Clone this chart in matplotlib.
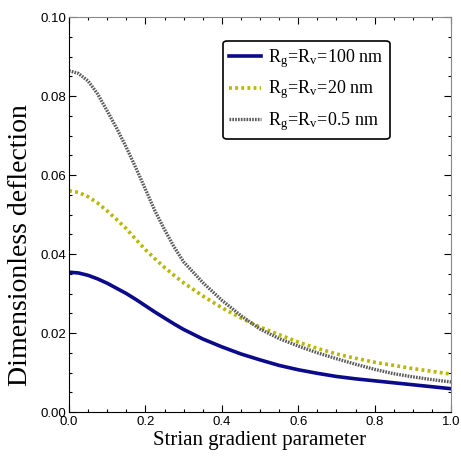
import matplotlib
matplotlib.use('Agg')
import matplotlib.pyplot as plt
from matplotlib.ticker import MultipleLocator, FormatStrFormatter

# values (finer steps where the curves bend most)
x = [0.000, 0.025, 0.050, 0.075, 0.100, 0.125, 0.150, 0.175, 0.200, 0.225, 0.250, 0.275, 0.300,
     0.35, 0.40, 0.45, 0.50, 0.55, 0.60, 0.65, 0.70, 0.75, 0.80, 0.85, 0.90, 0.95, 1.00]
w_100 = [0.0354, 0.0352, 0.0346, 0.0337, 0.0326, 0.0313, 0.0300, 0.0285, 0.0269, 0.0253, 0.0238, 0.0223, 0.0209,
         0.0185, 0.0165, 0.0147, 0.0132, 0.0118, 0.0107, 0.0098, 0.0090, 0.0084, 0.0079, 0.0074, 0.0069, 0.0064, 0.0059]
w_20 = [0.0560, 0.0556, 0.0545, 0.0529, 0.0509, 0.0487, 0.0464, 0.0437, 0.0411, 0.0388, 0.0366, 0.0346, 0.0327,
        0.0294, 0.0264, 0.0238, 0.0215, 0.0196, 0.0177, 0.0161, 0.0147, 0.0136, 0.0126, 0.0118, 0.0110, 0.0103, 0.0096]
w_05 = [0.0864, 0.0857, 0.0838, 0.0805, 0.0762, 0.0718, 0.0670, 0.0618, 0.0564, 0.0509, 0.0462, 0.0418, 0.0380,
        0.0328, 0.0283, 0.0244, 0.0210, 0.0186, 0.0167, 0.0150, 0.0135, 0.0121, 0.0108, 0.0097, 0.0089, 0.0082, 0.0076]
labels = [r'R$_\mathregular{g}$=R$_\mathregular{v}$=100 nm',
          r'R$_\mathregular{g}$=R$_\mathregular{v}$=20 nm',
          r'R$_\mathregular{g}$=R$_\mathregular{v}$=0.5 nm']

plt.rcParams['mathtext.fontset'] = 'stix'
plt.rcParams['lines.solid_joinstyle'] = 'round'
plt.rcParams['lines.dash_joinstyle'] = 'round'

fig = plt.figure(figsize=(4.61, 4.62), dpi=100)
ax = fig.add_axes([0.1497, 0.1082, 0.8286, 0.855])

ax.plot(x, w_100, color='#0a0a8a', lw=2.6, label=labels[0])
ax.plot(x, w_20, color='#b8b800', lw=2.6, linestyle=(0, (0.8, 0.9)), label=labels[1])
ax.plot(x, w_05, color='#5a5a5a', lw=2.4, linestyle=(0, (0.5, 0.35)), label=labels[2])

ax.set_xlim(0, 1)
ax.set_ylim(0, 0.10)
ax.xaxis.set_major_locator(MultipleLocator(0.2))
ax.xaxis.set_minor_locator(MultipleLocator(0.05))
ax.yaxis.set_major_locator(MultipleLocator(0.02))
ax.yaxis.set_minor_locator(MultipleLocator(0.005))
ax.xaxis.set_major_formatter(FormatStrFormatter('%.1f'))
ax.yaxis.set_major_formatter(FormatStrFormatter('%.2f'))
ax.tick_params(which='both', direction='in', top=True, right=True,
               labelsize=9.5, width=0.8)
ax.tick_params(axis='x', pad=3)
ax.tick_params(axis='y', pad=2)
ax.tick_params(which='major', length=5)
ax.tick_params(which='minor', length=2.5)
for t in ax.get_xticklabels() + ax.get_yticklabels():
    t.set_fontfamily('Liberation Sans')
for s in ['top', 'right']:
    ax.spines[s].set_color('#888888')

ax.set_xlabel('Strian gradient parameter', fontfamily='Liberation Serif', fontsize=15, labelpad=2)
ax.set_ylabel('Dimensionless deflection', fontfamily='Liberation Serif', fontsize=20)
ax.yaxis.set_label_coords(-0.094, 0.423)

leg = ax.legend(loc='upper right', bbox_to_anchor=(0.84, 0.94),
                prop={'family': 'Liberation Serif', 'size': 13}, borderaxespad=0,
                frameon=True, fancybox=True, handlelength=1.75, labelspacing=0.5,
                borderpad=0.35, handletextpad=0.4)
leg.get_frame().set_edgecolor('black')
leg.get_frame().set_linewidth(1.2)
leg.get_frame().set_alpha(1)

fig.savefig('out.png', dpi=100)
